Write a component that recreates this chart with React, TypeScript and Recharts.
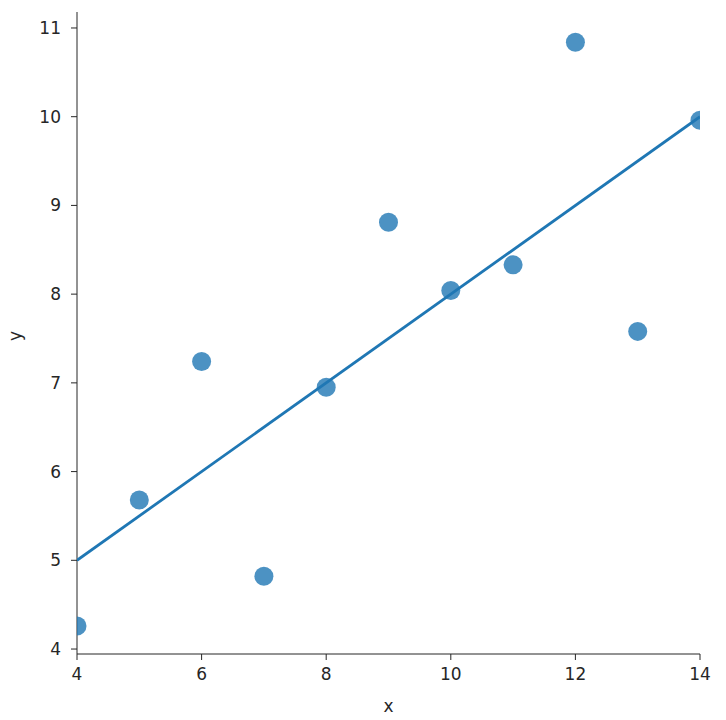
import React from 'react'
import { ScatterChart, Scatter, XAxis, YAxis, Label } from 'recharts'

// Anscombe set I
const xs = [10, 8, 13, 9, 11, 14, 6, 4, 12, 7, 5]
const ys = [8.04, 6.95, 7.58, 8.81, 8.33, 9.96, 7.24, 4.26, 10.84, 4.82, 5.68]
const fitX = [4, 14]
const fitY = [5.0, 10.0]
const xTicks = [4, 6, 8, 10, 12, 14]
const yTicks = [4, 5, 6, 7, 8, 9, 10, 11]

const points = xs.map((x, i) => ({ x, y: ys[i] }))
const fit = fitX.map((x, i) => ({ x, y: fitY[i] }))

const axisColor = '#262626'
const font = { fill: axisColor, fontSize: 17, fontFamily: 'DejaVu Sans' }

export default function App() {
  return (
    <div style={{ position: 'absolute', left: 0, top: 0, background: '#fff' }}>
      <ScatterChart width={726} height={720} margin={{ top: 12, right: 26, left: 0, bottom: 0 }}>
        <XAxis
          type="number"
          dataKey="x"
          domain={[4, 14]}
          ticks={xTicks}
          allowDataOverflow
          height={66}
          stroke={axisColor}
          tick={font}
          tickSize={6}
          tickMargin={8}
        >
          <Label value="x" position="insideBottom" offset={8} style={font} />
        </XAxis>
        <YAxis
          type="number"
          dataKey="y"
          domain={[3.944, 11.18]}
          ticks={yTicks}
          allowDataOverflow
          width={77}
          stroke={axisColor}
          tick={font}
          tickSize={6}
          tickMargin={10}
        >
          <Label value="y" angle={-90} position="insideLeft" offset={15} dy={8} style={font} />
        </YAxis>
        <Scatter data={points} shape={(p: any) => <circle cx={p.cx} cy={p.cy} r={9.5} fill="#1f77b4" fillOpacity={0.8} />} isAnimationActive={false} />
        <Scatter data={fit} line={{ stroke: '#1f77b4', strokeWidth: 2.8 }} shape={() => null} isAnimationActive={false} />
      </ScatterChart>
    </div>
  )
}
